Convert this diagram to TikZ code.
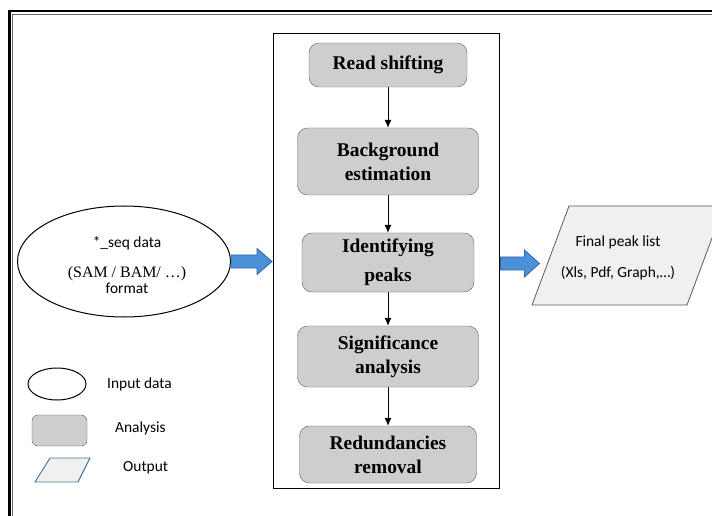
\documentclass[tikz,border=0pt]{standalone}
\usepackage{fontspec}
\setmainfont{Liberation Serif}
\newfontfamily\calibri{Carlito}
\usetikzlibrary{arrows.meta,shapes.geometric}

\definecolor{boxline}{RGB}{90,90,90}
\definecolor{boxfill}{RGB}{206,206,206}
\definecolor{arrfill}{RGB}{76,144,216}
\definecolor{arrline}{RGB}{46,104,170}
\definecolor{outfill}{RGB}{240,240,240}
\definecolor{outline}{RGB}{65,113,156}

\tikzset{
  stepbox/.style={draw=boxline, fill=boxfill, rounded corners=10pt,
    font=\fontsize{19.5}{24}\selectfont\bfseries, align=center, inner sep=0pt},
  flow/.style={-{Latex[length=8bp,width=7bp]}, line width=0.9bp},
  bluearr/.style={fill=arrfill, draw=arrline, line width=0.8bp, line join=miter},
  sanstext/.style={font=\calibri\fontsize{15.5}{19}\selectfont, align=center, inner sep=0pt}
}

\begin{document}
\begin{tikzpicture}[x=1bp,y=1bp]
    \useasboundingbox (0,-516) rectangle (712,0);

    % outer frame
    \draw[line width=2.6bp] (9.5,-520) -- (9.5,-11.2) -- (716,-11.2);
    \draw[line width=1.1bp, black!60] (12.6,-520) -- (12.6,-14.2) -- (716,-14.2);

    % analysis steps
    \node[draw, line width=0.9bp, minimum width=226bp, minimum height=455bp] (frame) at (386,-260.5) {};
    \node[stepbox, minimum width=158bp, minimum height=44bp] (rs) at (388,-65) {Read shifting};
    \node[stepbox, minimum width=181bp, minimum height=67bp] (bg) at (388,-161.5) {Background\\estimation};
    \node[stepbox, minimum width=172bp, minimum height=59bp, font=\fontsize{19.5}{29}\selectfont\bfseries] (ip) at (388,-262.5) {Identifying\\peaks};
    \node[stepbox, minimum width=181bp, minimum height=61bp] (sa) at (388,-356.5) {Significance\\analysis};
    \node[stepbox, minimum width=177bp, minimum height=57bp] (rr) at (388,-454.5) {Redundancies\\removal};
    \draw[flow] (rs) -- (bg);
    \draw[flow] (bg) -- (ip);
    \draw[flow] (ip) -- (sa);
    \draw[flow] (sa) -- (rr);

    % input
    \node[ellipse, draw, line width=1bp, minimum width=213bp, minimum height=111bp, inner sep=0pt] (input) at (124,-261.5) {};
    \node[sanstext] (inputtxt) at (127,-265) {*\_seq data\\[11bp]{\rmfamily\fontsize{16}{19}\selectfont (SAM / BAM/ \dots)}\\[-3bp]format};

    % output
    \path[fill=outfill, draw=boxline, line width=0.8bp] (532,-305) -- (687,-305) -- (724,-206) -- (569,-206) -- cycle;
    \node[sanstext] (outtxt) at (618,-257.5) {Final peak list\\[12bp](Xls, Pdf, Graph,\dots)};
    \coordinate (outin) at (541,-263.5);

    % block arrows
    \draw[bluearr] (input.east) ++(0,6.5) -- ++(26,0) -- ++(0,6.5) -- ++(15,-13) -- ++(-15,-13) -- ++(0,6.5) -- ++(-26,0) -- cycle;
    \draw[bluearr] (frame.east |- outin) ++(1,6.5) -- ++(24,0) -- ++(0,7) -- ++(15,-13.5) -- ++(-15,-13.5) -- ++(0,7) -- ++(-24,0) -- cycle;

    % legend
    \node[ellipse, draw, line width=1bp, minimum width=58bp, minimum height=32bp, inner sep=0pt] (legin) at (57,-384) {};
    \node[sanstext, anchor=west] (leginlab) at (107,-384) {Input data};
    \node[stepbox, minimum width=55bp, minimum height=31bp, rounded corners=6pt] (legan) at (59.5,-430.5) {};
    \node[sanstext, anchor=west] (leganlab) at (115,-428) {Analysis};
    \path[fill=outfill, draw=outline, line width=0.9bp] (35,-482) -- (78,-482) -- (90,-458) -- (50,-458) -- cycle;
    \node[sanstext, anchor=west] (legoutlab) at (123,-468) {Output};
\end{tikzpicture}
\end{document}
